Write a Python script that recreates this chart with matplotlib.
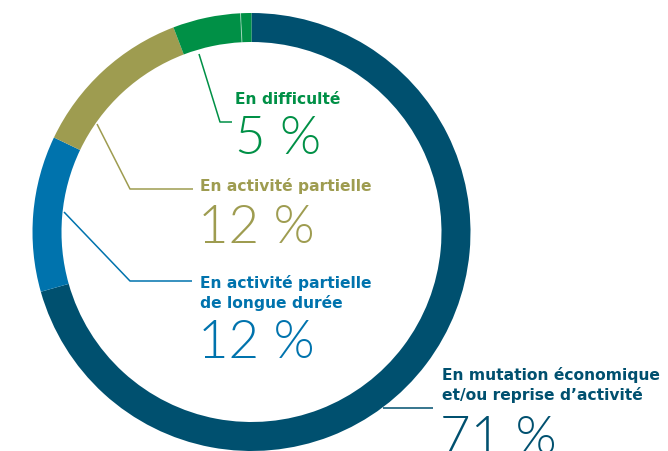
import numpy as np
import matplotlib
matplotlib.use('Agg')
import matplotlib.pyplot as plt

# Parts de l'anneau (sens horaire depuis le haut)
parts = [70.6, 11.5, 12.1, 5.0, 0.8]
couleurs = ['#00506f', '#0073ad', '#9e9c50', '#009046', '#009046']

# Libelles
libelles = ['En mutation économique\net/ou reprise d\u2019activité',
            'En activité partielle\nde longue durée',
            'En activité partielle',
            'En difficulté']
pourcents = ['71 %', '12 %', '12 %', '5 %']
couleurs_txt = ['#00506f', '#0073ad', '#9e9c50', '#009046']

W, H = 668, 452


def py(y):
    # coordonnee pixel (haut -> bas) vers coordonnee de l'axe
    return H - y


fig = plt.figure(figsize=(W / 100, H / 100), dpi=100)
ax = fig.add_axes([0, 0, 1, 1])

cx, cy, r, ep = 251.5, py(233), 219, 29
wedges, _ = ax.pie(parts, colors=couleurs, startangle=90, counterclock=False,
                   radius=r, center=(cx, cy),
                   wedgeprops=dict(width=ep, edgecolor='none', linewidth=0))

# fine ligne claire entre les deux morceaux verts
ang = np.deg2rad(90 - 360 * sum(parts[:4]) / 100)
ax.plot([cx + (r - ep) * np.cos(ang), cx + r * np.cos(ang)],
        [cy + (r - ep) * np.sin(ang), cy + r * np.sin(ang)],
        color='white', lw=0.7, alpha=0.5)

# Lignes de rappel
rappels = [
    [(383, 409), (433, 409)],
    [(64, 213), (130, 282), (192, 282)],
    [(97, 125), (130, 190), (193, 190)],
    [(199, 55), (220, 123), (232, 123)],
]
for pts, c in zip(rappels, couleurs_txt):
    xs = [p[0] for p in pts]
    ys = [py(p[1]) for p in pts]
    ax.plot(xs, ys, color=c, lw=1.1, solid_capstyle='butt')

# Textes
pos_lib = [(442, 385), (200, 293), (200, 186), (235, 100)]
pos_num = [(440, 440), (198, 344), (198, 229), (235, 140)]
for i in range(4):
    ax.text(pos_lib[i][0], py(pos_lib[i][1]), libelles[i], color=couleurs_txt[i],
            fontsize=11.2, fontweight='bold', family='DejaVu Sans',
            ha='left', va='center', linespacing=1.38)
    ax.text(pos_num[i][0], py(pos_num[i][1]), pourcents[i], color=couleurs_txt[i],
            fontsize=38, fontweight=300, family='Lato',
            ha='left', va='center')

ax.set_xlim(0, W)
ax.set_ylim(0, H)
ax.set_aspect('equal')
ax.axis('off')

plt.savefig('out.png', dpi=100)
